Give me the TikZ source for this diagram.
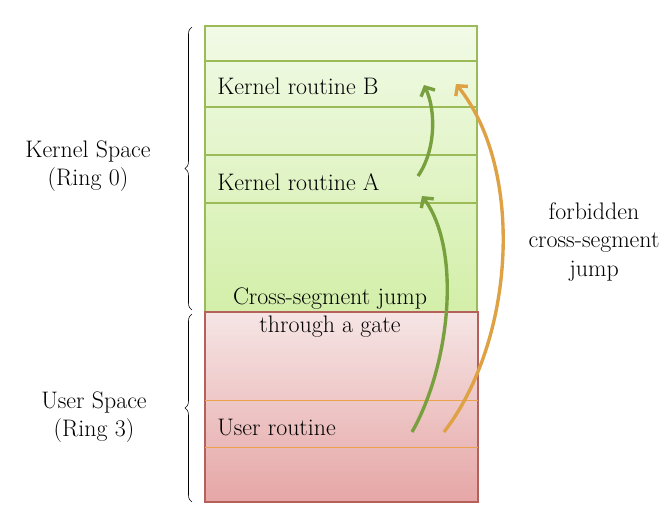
\documentclass[tikz,border=0pt]{standalone}
\usepackage{tikz}
\usetikzlibrary{arrows.meta}
\usetikzlibrary{decorations.pathreplacing}
\usetikzlibrary{shadows}
\definecolor{kborder}{HTML}{9BBB59}
\definecolor{ktop}{HTML}{F1FAE6}
\definecolor{kbot}{HTML}{D3EFA9}
\definecolor{uborder}{HTML}{B5605A}
\definecolor{utop}{HTML}{F6E5E5}
\definecolor{ubot}{HTML}{E6A6A6}
\definecolor{uline}{HTML}{EBA24A}
\definecolor{jgreen}{HTML}{78A03E}
\definecolor{jorange}{HTML}{DEA144}

\begin{document}
\begin{tikzpicture}[x=0.025cm,y=-0.025cm]
  \tikzstyle{txt}=[font=\fontsize{17}{20}\selectfont,inner sep=0pt]
  \tikzstyle{jump}=[line width=2.4pt,-{Straight Barb[length=5pt,width=11pt]}]
  \useasboundingbox (0,0) rectangle (671,526);
  % the two segments
  \shade[top color=ktop,bottom color=kbot,draw=kborder,line width=0.8pt] (205,26) rectangle (477,312);
  \shade[top color=utop,bottom color=ubot,draw=uborder,line width=0.8pt,
    drop shadow={shadow xshift=1pt,shadow yshift=-1pt,opacity=0.3}] (205,312) rectangle (478,502);
  \foreach \y in {61,107,155,203}
    \draw[kborder,line width=0.8pt] (205,\y) -- (477,\y);
  \foreach \y in {400,447}
    \draw[uline,line width=0.7pt] (205,\y) -- (478,\y);
  % routines
  \node[txt,anchor=base west] (rtB) at (217,94) {Kernel routine B};
  \node[txt,anchor=base west] (rtA) at (217,190) {Kernel routine A};
  \node[txt,anchor=base west] (rtU) at (217,435) {User routine};
  \node[txt,align=center] (gate) at (330,313) {Cross-segment jump\\through a gate};
  % rings
  \node[txt,align=center] (kspace) at (88,166) {Kernel Space\\(Ring 0)};
  \node[txt,align=center] (uspace) at (94,417) {User Space\\(Ring 3)};
  \node[txt,align=center] (forbid) at (594,242) {forbidden\\cross-segment\\jump};
  \draw[decorate,decoration={brace,amplitude=5pt}] (192,310) -- (192,27);
  \draw[decorate,decoration={brace,amplitude=5pt}] (192,502) -- (192,314);
  % jumps
  \coordinate (u1) at (412,432);
  \coordinate (u2) at (444,432);
  \coordinate (a1) at (422,196);
  \coordinate (a2) at (418,176);
  \coordinate (b1) at (424,85);
  \coordinate (b2) at (456,84);
  \draw[jump,jgreen] (u1) .. controls (450,365) and (462,250) .. (a1);
  \draw[jump,jgreen] (a2) .. controls (436,150) and (436,110) .. (b1);
  \draw[jump,jorange] (u2) .. controls (515,340) and (525,170) .. (b2);
\end{tikzpicture}
\end{document}
